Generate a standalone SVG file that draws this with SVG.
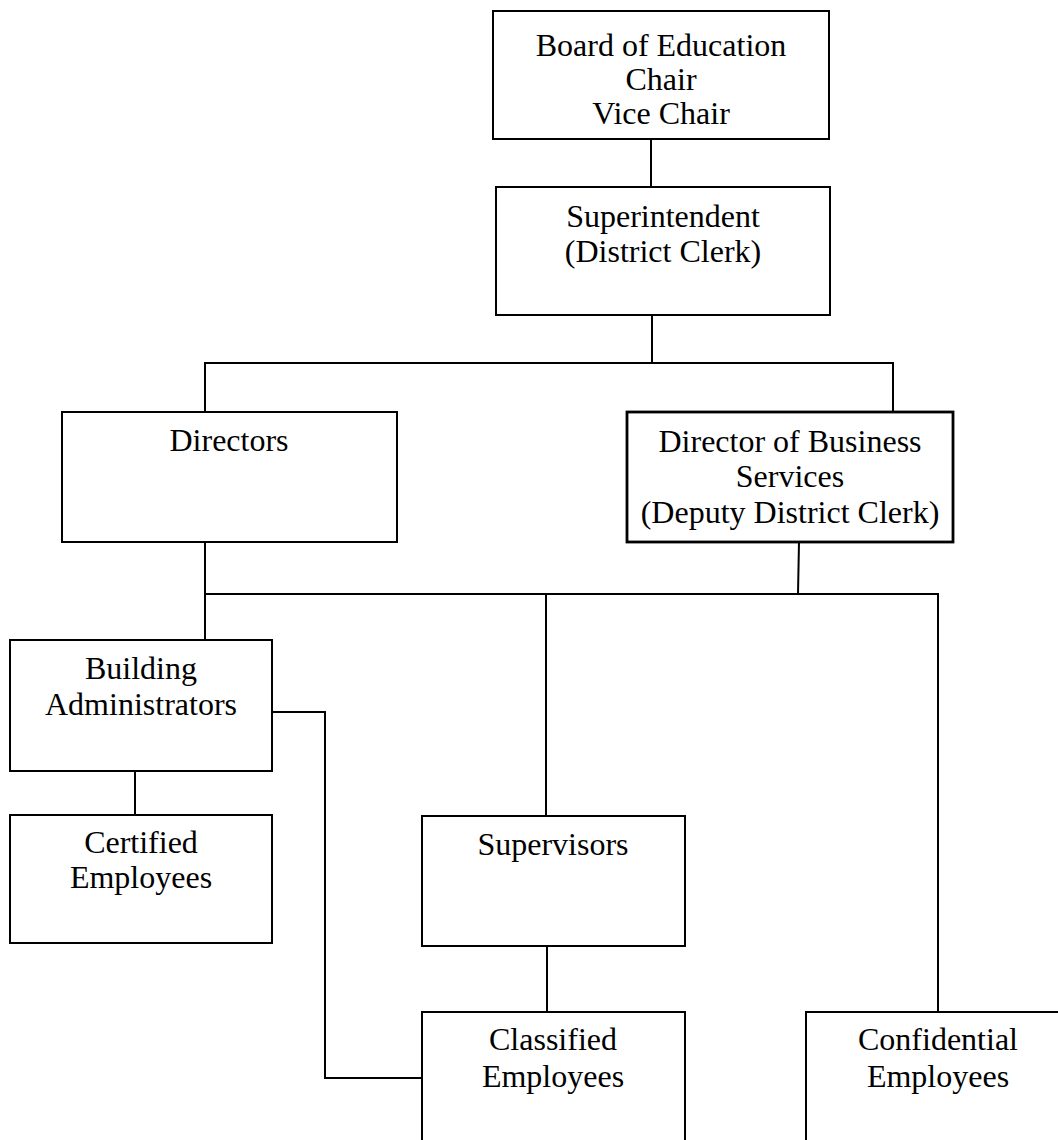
<svg xmlns="http://www.w3.org/2000/svg" width="1058" height="1140" viewBox="0 0 1058 1140">
<style>
.box{fill:#fff;stroke:#000;stroke-width:2}
.thick{stroke-width:2.8}
.lbl{font-family:"Liberation Serif","Times New Roman",serif;font-size:32px;fill:#000;text-anchor:middle}
.conn{fill:none;stroke:#000;stroke-width:2}
</style>
<rect width="1058" height="1140" fill="#fff"/>
<g id="connectors">
<path class="conn" d="M651 139V187"/>
<path class="conn" d="M652 315V363"/>
<path class="conn" d="M205 412V363H893V412"/>
<path class="conn" d="M205 542V640"/>
<path class="conn" d="M799 542L798 594"/>
<path class="conn" d="M205 594H938V1012"/>
<path class="conn" d="M546 594V816"/>
<path class="conn" d="M135 771V815"/>
<path class="conn" d="M272 712H325V1078H422"/>
<path class="conn" d="M547 946V1012"/>
</g>
<g id="board">
<rect class="box" x="493" y="11" width="336" height="128"/>
<text class="lbl" x="661" y="56">Board of Education</text>
<text class="lbl" x="661" y="90">Chair</text>
<text class="lbl" x="661" y="124">Vice Chair</text>
</g>
<g id="superintendent">
<rect class="box" x="496" y="187" width="334" height="128"/>
<text class="lbl" x="663" y="227">Superintendent</text>
<text class="lbl" x="663" y="262">(District Clerk)</text>
</g>
<g id="directors">
<rect class="box" x="62" y="412" width="335" height="130"/>
<text class="lbl" x="229" y="451">Directors</text>
</g>
<g id="business">
<rect class="box thick" x="627" y="412" width="326" height="130"/>
<text class="lbl" x="790" y="452">Director of Business</text>
<text class="lbl" x="790" y="487">Services</text>
<text class="lbl" x="790" y="523">(Deputy District Clerk)</text>
</g>
<g id="building">
<rect class="box" x="10" y="640" width="262" height="131"/>
<text class="lbl" x="141" y="679">Building</text>
<text class="lbl" x="141" y="715">Administrators</text>
</g>
<g id="certified">
<rect class="box" x="10" y="815" width="262" height="128"/>
<text class="lbl" x="141" y="853">Certified</text>
<text class="lbl" x="141" y="888">Employees</text>
</g>
<g id="supervisors">
<rect class="box" x="422" y="816" width="263" height="130"/>
<text class="lbl" x="553" y="855">Supervisors</text>
</g>
<g id="classified">
<rect class="box" x="422" y="1012" width="263" height="160"/>
<text class="lbl" x="553" y="1050">Classified</text>
<text class="lbl" x="553" y="1087">Employees</text>
</g>
<g id="confidential">
<rect class="box" x="806" y="1012" width="264" height="160"/>
<text class="lbl" x="938" y="1050">Confidential</text>
<text class="lbl" x="938" y="1087">Employees</text>
</g>
</svg>
